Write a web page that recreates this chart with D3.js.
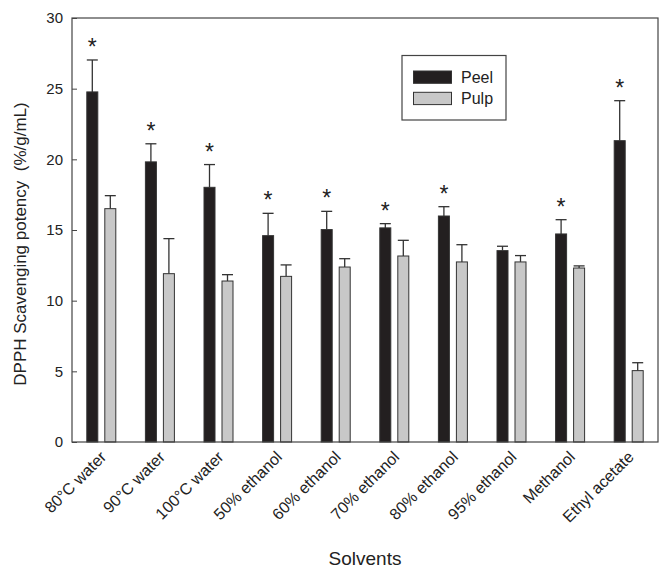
<!DOCTYPE html>
<html><head><meta charset="utf-8">
<script src="https://cdn.jsdelivr.net/npm/d3@7"></script>
<style>body{margin:0;background:#fff}svg{font-family:Arial,"Liberation Sans",sans-serif}</style>
</head><body><svg id="c" width="671" height="577"></svg>
<script>
const categories = ["80°C water","90°C water","100°C water","50% ethanol","60% ethanol","70% ethanol","80% ethanol","95% ethanol","Methanol","Ethyl acetate"];
const peel = [24.77,19.82,18.02,14.6,15.03,15.15,15.99,13.54,14.72,21.32];
const peelErr = [2.26,1.28,1.61,1.58,1.29,0.30,0.66,0.31,1.01,2.83];
const pulp = [16.51,11.91,11.39,11.72,12.38,13.16,12.74,12.74,12.31,5.05];
const pulpErr = [0.92,2.48,0.45,0.81,0.59,1.11,1.22,0.45,0.15,0.56];
const significant = [true,true,true,true,true,true,true,false,true,true];
const yTicks = [0,5,10,15,20,25,30];
const seriesNames = ["Peel","Pulp"];

const svg = d3.select("#c");
const m = {l:72, t:18, r:658, b:442};
const x = d3.scaleBand().domain(categories).range([m.l, m.r]);
const y = d3.scaleLinear().domain([0,30]).range([m.b, m.t]);
const bw = 11, off = 9;
const colors = ["#231f20","#c8c8c8"];

function drawSeries(vals, errs, dx, color){
  const g = svg.append("g");
  categories.forEach((c,i)=>{
    const cx = x(c) + x.bandwidth()/2 + dx;
    const top = y(vals[i] + errs[i]);
    g.append("line").attr("x1",cx).attr("x2",cx).attr("y1",y(vals[i])).attr("y2",top).attr("stroke","#333").attr("stroke-width",1.3);
    g.append("line").attr("x1",cx-bw/2).attr("x2",cx+bw/2).attr("y1",top).attr("y2",top).attr("stroke","#333").attr("stroke-width",1.3);
    g.append("rect").attr("x",cx-bw/2).attr("y",y(vals[i])).attr("width",bw).attr("height",y(0)-y(vals[i]))
      .attr("fill",color).attr("stroke","#333").attr("stroke-width",1);
  });
}
drawSeries(peel, peelErr, -off, colors[0]);
drawSeries(pulp, pulpErr, off, colors[1]);

// stars
categories.forEach((c,i)=>{
  if(!significant[i]) return;
  const cx = x(c) + x.bandwidth()/2 - off;
  svg.append("text").attr("x",cx).attr("y",y(peel[i]+peelErr[i]) - 5).attr("text-anchor","middle")
    .attr("font-size",23).attr("fill","#222").text("*");
});

// frame
svg.append("rect").attr("x",m.l).attr("y",m.t).attr("width",m.r-m.l).attr("height",m.b-m.t)
  .attr("fill","none").attr("stroke","#444").attr("stroke-width",1.2);

// y axis
const ya = svg.append("g").attr("transform",`translate(${m.l},0)`)
  .call(d3.axisLeft(y).tickValues(yTicks).tickSize(-5).tickPadding(9));
ya.select(".domain").remove();
ya.selectAll("line").attr("stroke","#444");
ya.selectAll("text").attr("font-size",15).attr("fill","#222").attr("font-family","Arial,'Liberation Sans',sans-serif");

// x axis labels
const xa = svg.append("g").attr("transform",`translate(0,${m.b})`)
  .call(d3.axisBottom(x).tickSize(0).tickPadding(0));
xa.select(".domain").remove();
xa.selectAll("text").attr("font-size",16).attr("fill","#222").attr("font-family","Arial,'Liberation Sans',sans-serif")
  .attr("text-anchor","end").attr("dy",0).attr("transform","translate(6,16) rotate(-45)");

// titles
svg.append("text").attr("x",365).attr("y",565).attr("text-anchor","middle").attr("font-size",19).attr("fill","#222").text("Solvents");
svg.append("text").attr("transform",`translate(26,244) rotate(-90)`).attr("text-anchor","middle")
  .attr("font-size",17).attr("fill","#222").attr("xml:space","preserve").text("DPPH Scavenging potency  (%/g/mL)");

// legend
const lg = svg.append("g");
lg.append("rect").attr("x",402).attr("y",55.5).attr("width",104).attr("height",64.5).attr("fill","#fff").attr("stroke","#444").attr("stroke-width",1.2);
seriesNames.forEach((n,i)=>{
  lg.append("rect").attr("x",413.5).attr("y",71+i*21.3).attr("width",38).attr("height",12.3).attr("fill",colors[i]).attr("stroke","#333");
  lg.append("text").attr("x",461).attr("y",83+i*21.3).attr("font-size",16).attr("fill","#222").text(n);
});
</script></body></html>
